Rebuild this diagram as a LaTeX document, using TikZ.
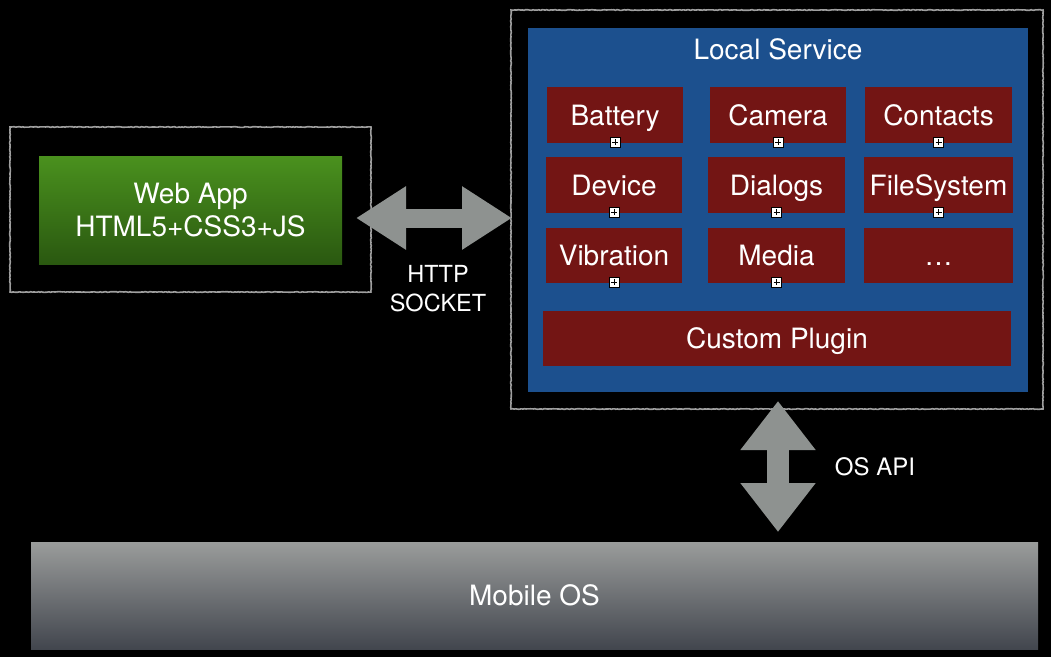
\documentclass[tikz,border=0pt]{standalone}
\usepackage{fontspec}
\setmainfont{TeX Gyre Heros}
\usetikzlibrary{arrows.meta}
\usetikzlibrary{decorations.pathmorphing}

\definecolor{pluginred}{RGB}{115,21,20}
\definecolor{servblue}{RGB}{28,80,142}
\definecolor{arrowgray}{RGB}{142,146,144}
\definecolor{greentop}{RGB}{74,145,30}
\definecolor{greenbot}{RGB}{42,88,16}
\definecolor{ostop}{RGB}{154,156,155}
\definecolor{osbot}{RGB}{66,70,78}

\tikzset{
  frame/.style={draw=gray!75, line width=1.6pt, inner sep=0pt,
    decorate, decoration={random steps, segment length=1.5pt, amplitude=0.35pt}},
  plugin/.style={fill=pluginred, text=white, inner sep=0pt, minimum height=56pt,
    text height=20pt, text depth=0pt, font=\fontsize{28}{32}\selectfont},
  plusbox/.style={draw=black, fill=white, line width=0.7pt, minimum size=10pt, inner sep=0pt,
    path picture={
      \draw[black, line width=0.9pt]
        ([xshift=-3pt]path picture bounding box.center) -- ([xshift=3pt]path picture bounding box.center)
        ([yshift=-3pt]path picture bounding box.center) -- ([yshift=3pt]path picture bounding box.center);}},
  label/.style={text=white, align=center, inner sep=0pt},
}

\begin{document}
\begin{tikzpicture}[x=1pt, y=-1pt]
    % Background
    \fill [black] (0,0) rectangle (1051,657);
    \useasboundingbox (0,0) rectangle (1051,657);
    % Web App
    \node [frame, minimum width=361pt, minimum height=165pt] (webframe) at (190.5,209.5) {};
    \node [label, top color=greentop, bottom color=greenbot, minimum width=303pt, minimum height=108pt,
      font=\fontsize{28}{33}\selectfont] (webapp) at (190.5,210) {Web App\\HTML5+CSS3+JS};
    % Local Service
    \node [frame, minimum width=532pt, minimum height=399pt] (svcframe) at (777,209.5) {};
    \node [fill=servblue, minimum width=500pt, minimum height=364pt, inner sep=0pt] (svc) at (778,210) {};
    \node [label, text height=20pt, text depth=0pt, font=\fontsize{28}{32}\selectfont] (svctitle) at (778,49) {Local Service};
    % Plugins
    \node [plugin, minimum width=136pt] (bat) at (615,115) {Battery};
    \node [plugin, minimum width=136pt] (cam) at (778,115) {Camera};
    \node [plugin, minimum width=147pt] (con) at (938.5,115) {Contacts};
    \node [plugin, minimum width=136pt] (dev) at (614,185) {Device};
    \node [plugin, minimum width=137pt] (dia) at (776.5,185) {Dialogs};
    \node [plugin, minimum width=149pt] (fs) at (938.5,185) {FileSystem};
    \node [plugin, minimum width=136pt, minimum height=55pt] (vib) at (614,255.5) {Vibration};
    \node [plugin, minimum width=137pt, minimum height=55pt] (med) at (776.5,255.5) {Media};
    \node [plugin, minimum width=149pt, minimum height=55pt] (more) at (938.5,255.5) {\ldots};
    \node [plugin, minimum width=468pt, minimum height=55pt] (custom) at (777,338.5) {Custom Plugin};
    \foreach \p in {bat,cam,con,dev,dia,fs,vib,med}
      \node [plusbox] (\p-plus) at ([yshift=1pt]\p.south) {};
    % Mobile OS
    \node [label, top color=ostop, bottom color=osbot, minimum width=1007pt, minimum height=107pt,
      text height=20pt, text depth=0pt, font=\fontsize{28}{32}\selectfont] (os) at (534.5,595.5) {Mobile OS};
    % HTTP link
    \coordinate (httpL) at (356,218);
    \coordinate (httpR) at (512,218);
    \draw [arrowgray, line width=19pt, {Triangle[length=50pt,width=60pt]}-{Triangle[length=50pt,width=60pt]}] (httpL) -- (httpR);
    \node [label, font=\fontsize{23.5}{29}\selectfont] (http) at (438,289) {HTTP\\SOCKET};
    % OS API link
    \coordinate (apiT) at (778,401);
    \coordinate (apiB) at (778,532);
    \draw [arrowgray, line width=22pt, {Triangle[length=49pt,width=72pt]}-{Triangle[length=49pt,width=72pt]}] (apiT) -- (apiB);
    \node [label, text height=17pt, text depth=0pt, font=\fontsize{24}{28}\selectfont] (osapi) at (875,467) {OS API};
  \end{tikzpicture}
\end{document}
